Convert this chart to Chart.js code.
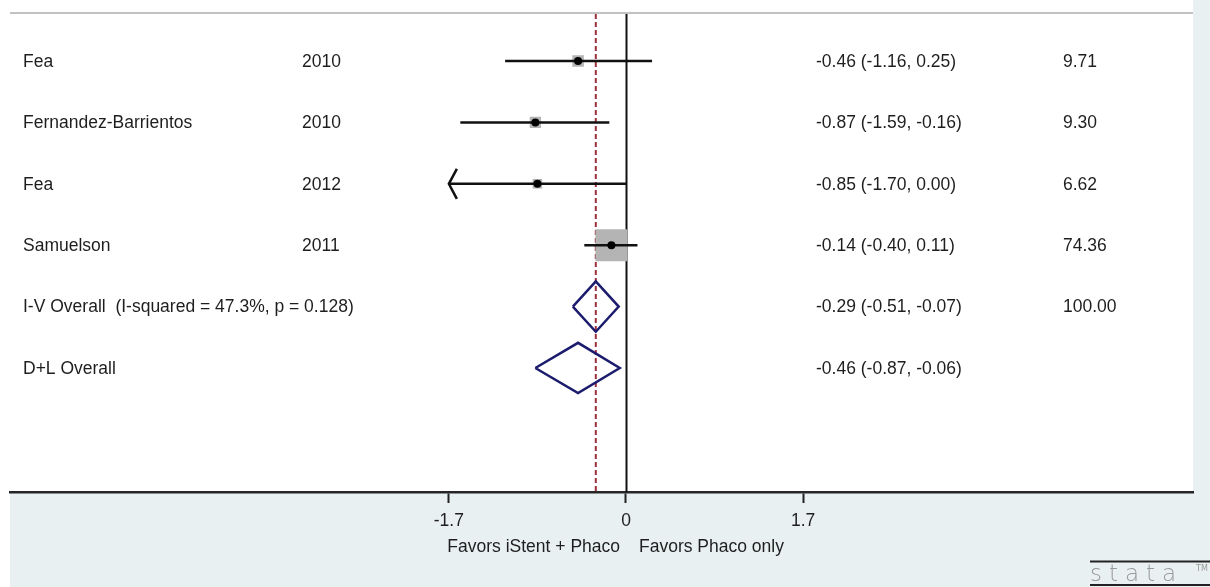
<!DOCTYPE html>
<html>
<head>
<meta charset="utf-8">
<script src="https://cdn.jsdelivr.net/npm/chart.js@4/dist/chart.umd.min.js"></script>
<style>
  html, body { margin: 0; padding: 0; background: #ffffff; }
  #wrap { width: 1210px; height: 587px; position: relative; }
</style>
</head>
<body>
<div id="wrap"><canvas id="c" width="1210" height="587"></canvas></div>
<script>
// ---- data ----
const studies = ['Fea', 'Fernandez-Barrientos', 'Fea', 'Samuelson'];
const years = ['2010', '2010', '2012', '2011'];
const est = [-0.46, -0.87, -0.85, -0.14];
const lo = [-1.16, -1.59, -1.70, -0.40];
const hi = [0.25, -0.16, 0.00, 0.11];
const weights = [9.71, 9.30, 6.62, 74.36];

const pooledLabels = ['I-V Overall  (I-squared = 47.3%, p = 0.128)', 'D+L Overall'];
const pooledEst = [-0.29, -0.46];
const pooledLo = [-0.51, -0.87];
const pooledHi = [-0.07, -0.06];
const pooledWeights = ['100.00', ''];

const xTicks = [-1.7, 0, 1.7];
const xTickLabels = ['-1.7', '0', '1.7'];
const axisLabels = ['Favors iStent + Phaco', 'Favors Phaco only'];

// ---- styling constants ----
const FONT = '"Liberation Sans", Arial, sans-serif';
const FS = 17.5;
const TXT = '#1e1e1e';
const BG = '#e9f0f2';
const BOX_K = 3.7;       // px side per sqrt(weight)
const DIAMOND_H = 0.41;  // half height in row units

const studyRows = studies.map((_, i) => i + 1);
const pooledRows = pooledLabels.map((_, j) => studies.length + 1 + j);

const datasets = [];
// CI lines
studies.forEach((s, i) => {
  datasets.push({
    type: 'line', order: 2,
    data: [{x: lo[i], y: studyRows[i]}, {x: hi[i], y: studyRows[i]}],
    borderColor: '#111', borderWidth: 2.5, pointRadius: 0, tension: 0, fill: false
  });
});
// weight boxes
datasets.push({
  type: 'scatter', order: 3,
  data: est.map((e, i) => ({x: e, y: studyRows[i]})),
  pointStyle: 'rect',
  pointRadius: weights.map(w => BOX_K * Math.sqrt(w) / Math.SQRT2),
  backgroundColor: '#b4b4b4', borderWidth: 0, pointHoverRadius: 0
});
// point estimates
datasets.push({
  type: 'scatter', order: 1,
  data: est.map((e, i) => ({x: e, y: studyRows[i]})),
  pointStyle: 'circle', pointRadius: 4,
  backgroundColor: '#000', borderColor: '#000', borderWidth: 0
});
// pooled diamonds
pooledEst.forEach((e, j) => {
  const r = pooledRows[j];
  datasets.push({
    type: 'line', order: 1,
    data: [
      {x: pooledLo[j], y: r}, {x: e, y: r - DIAMOND_H},
      {x: pooledHi[j], y: r}, {x: e, y: r + DIAMOND_H},
      {x: pooledLo[j], y: r}
    ],
    borderColor: '#1c1c6e', borderWidth: 2.5, pointRadius: 0, tension: 0, fill: false,
    borderJoinStyle: 'miter'
  });
});

const decorPlugin = {
  id: 'decor',
  beforeDraw(chart) {
    const {ctx, chartArea: a, width, height} = chart;
    ctx.save();
    ctx.fillStyle = '#ffffff';
    ctx.fillRect(0, 0, width, height);
    ctx.fillStyle = BG;
    ctx.fillRect(a.left, 0, width - a.left, height);
    ctx.fillStyle = '#ffffff';
    ctx.fillRect(a.left, 0, a.right - a.left, a.bottom);
    // top border line
    ctx.strokeStyle = '#c2c2c2';
    ctx.lineWidth = 2;
    ctx.beginPath();
    ctx.moveTo(a.left, a.top - 1);
    ctx.lineTo(a.right, a.top - 1);
    ctx.stroke();
    ctx.restore();
  },
  beforeDatasetsDraw(chart) {
    const {ctx, chartArea: a, scales: {x}} = chart;
    ctx.save();
    // null line
    const x0 = Math.round(x.getPixelForValue(0)) + 0.5;
    ctx.strokeStyle = '#111';
    ctx.lineWidth = 2;
    ctx.beginPath();
    ctx.moveTo(x0, a.top);
    ctx.lineTo(x0, a.bottom);
    ctx.stroke();
    // overall effect dashed line
    const xe = x.getPixelForValue(pooledEst[0]);
    ctx.strokeStyle = '#9e2f3d';
    ctx.lineWidth = 2;
    ctx.setLineDash([5, 3]);
    ctx.beginPath();
    ctx.moveTo(xe, a.top);
    ctx.lineTo(xe, a.bottom);
    ctx.stroke();
    ctx.restore();
  },
  afterDatasetsDraw(chart) {
    const {ctx, chartArea: a, scales: {x, y}} = chart;
    ctx.save();
    // arrows for CIs reaching the display limit
    ctx.strokeStyle = '#111';
    ctx.lineWidth = 2.5;
    studies.forEach((s, i) => {
      if (lo[i] <= xTicks[0]) {
        const px = x.getPixelForValue(lo[i]);
        const py = y.getPixelForValue(studyRows[i]);
        ctx.beginPath();
        ctx.moveTo(px + 8, py - 15);
        ctx.lineTo(px, py);
        ctx.lineTo(px + 8, py + 15);
        ctx.stroke();
      }
    });
    // text columns
    ctx.fillStyle = TXT;
    ctx.font = FS + 'px ' + FONT;
    ctx.textBaseline = 'middle';
    ctx.textAlign = 'left';
    const colName = a.left + 13, colYear = a.left + 292, colCI = a.left + 806, colW = a.left + 1053;
    studies.forEach((s, i) => {
      const py = y.getPixelForValue(studyRows[i]) + 1;
      ctx.fillText(s, colName, py);
      ctx.fillText(years[i], colYear, py);
      ctx.fillText(est[i].toFixed(2) + ' (' + lo[i].toFixed(2) + ', ' + hi[i].toFixed(2) + ')', colCI, py);
      ctx.fillText(weights[i].toFixed(2), colW, py);
    });
    pooledLabels.forEach((s, j) => {
      const py = y.getPixelForValue(pooledRows[j]) + 1;
      ctx.fillText(s, colName, py);
      ctx.fillText(pooledEst[j].toFixed(2) + ' (' + pooledLo[j].toFixed(2) + ', ' + pooledHi[j].toFixed(2) + ')', colCI, py);
      ctx.fillText(pooledWeights[j], colW, py);
    });
    // axis labels
    const x0 = x.getPixelForValue(0);
    const ty = a.bottom + 55;
    ctx.textAlign = 'right';
    ctx.fillText(axisLabels[0], x0 - 6, ty);
    ctx.textAlign = 'left';
    ctx.fillText(axisLabels[1], x0 + 13, ty);
    // stata logo
    const W = chart.width;
    ctx.strokeStyle = '#222';
    ctx.lineWidth = 2;
    ctx.beginPath();
    ctx.moveTo(1090, 561.5); ctx.lineTo(W, 561.5);
    ctx.moveTo(1090, 585); ctx.lineTo(W, 585);
    ctx.stroke();
    ctx.fillStyle = '#999999';
    ctx.font = '300 23px "DejaVu Sans", sans-serif';
    ctx.textBaseline = 'alphabetic';
    ctx.textAlign = 'left';
    ctx.letterSpacing = '7px';
    ctx.fillText('stata', 1090, 581);
    ctx.letterSpacing = '0px';
    ctx.font = '8px "DejaVu Sans", sans-serif';
    ctx.fillText('TM', 1196, 571);
    ctx.restore();
  }
};

new Chart(document.getElementById('c'), {
  data: {datasets},
  options: {
    responsive: false,
    animation: false,
    events: [],
    layout: {autoPadding: false, padding: {left: 10, right: 17, top: 14, bottom: 0}},
    plugins: {legend: {display: false}, tooltip: {enabled: false}},
    scales: {
      x: {
        type: 'linear',
        min: -616 / 104.2,
        max: 567 / 104.2,
        afterBuildTicks(scale) { scale.ticks = xTicks.map(v => ({value: v})); },
        afterFit(scale) { scale.height = 95; },
        ticks: {
          autoSkip: false,
          maxRotation: 0,
          padding: 8,
          color: TXT,
          font: {family: FONT, size: FS},
          callback(v) { const k = xTicks.indexOf(v); return k >= 0 ? xTickLabels[k] : ''; }
        },
        grid: {display: true, drawOnChartArea: false, drawTicks: true, tickLength: 11,
               tickColor: '#222', tickWidth: 2},
        border: {display: true, color: '#262626', width: 2.5}
      },
      y: {
        type: 'linear',
        reverse: true,
        min: 0.2345,
        max: 8.02,
        display: false
      }
    }
  },
  plugins: [decorPlugin]
});
</script>
</body>
</html>
